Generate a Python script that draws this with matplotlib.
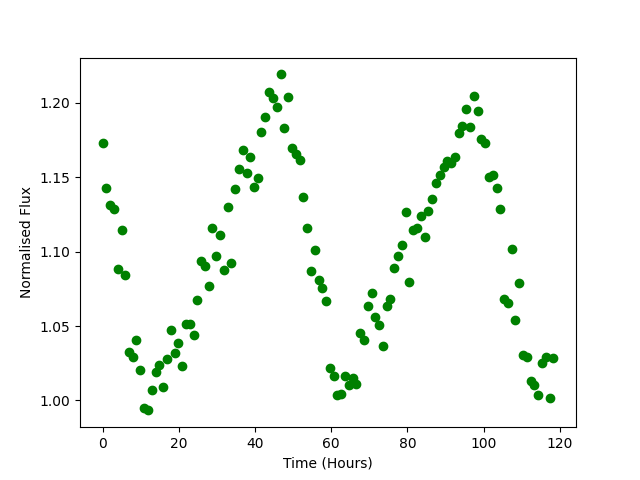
import numpy as np
import matplotlib
matplotlib.use('Agg')
import matplotlib.pyplot as plt

# observation times (hours)
time = [0.0, 1.0, 2.0, 3.0, 4.0, 5.0, 6.0, 7.0, 8.0, 8.9,
        9.9, 10.9, 11.9, 12.9, 13.9, 14.9, 15.9, 16.9, 17.9, 18.9,
        19.9, 20.9, 21.9, 22.9, 23.9, 24.9, 25.8, 26.8, 27.8, 28.8,
        29.8, 30.8, 31.8, 32.8, 33.8, 34.8, 35.8, 36.8, 37.8, 38.8,
        39.8, 40.8, 41.7, 42.7, 43.7, 44.7, 45.7, 46.7, 47.7, 48.7,
        49.7, 50.7, 51.7, 52.7, 53.7, 54.7, 55.7, 56.7, 57.7, 58.6,
        59.6, 60.6, 61.6, 62.6, 63.6, 64.6, 65.6, 66.6, 67.6, 68.6,
        69.6, 70.6, 71.6, 72.6, 73.6, 74.6, 75.5, 76.5, 77.5, 78.5,
        79.5, 80.5, 81.5, 82.5, 83.5, 84.5, 85.5, 86.5, 87.5, 88.5,
        89.5, 90.5, 91.4, 92.4, 93.4, 94.4, 95.4, 96.4, 97.4, 98.4,
        99.4, 100.4, 101.4, 102.4, 103.4, 104.4, 105.4, 106.4, 107.4, 108.3,
        109.3, 110.3, 111.3, 112.3, 113.3, 114.3, 115.3, 116.3, 117.3, 118.3]

# normalised flux
flux = [1.1732, 1.1426, 1.1311, 1.1285, 1.0884, 1.1146, 1.0842, 1.0327, 1.0295, 1.0407,
        1.0206, 0.9951, 0.9933, 1.0072, 1.0191, 1.0238, 1.0092, 1.0278, 1.0472, 1.0320,
        1.0387, 1.0231, 1.0515, 1.0515, 1.0439, 1.0676, 1.0938, 1.0902, 1.0768, 1.1157,
        1.0969, 1.1110, 1.0877, 1.1300, 1.0924, 1.1419, 1.1553, 1.1683, 1.1526, 1.1634,
        1.1432, 1.1495, 1.1801, 1.1902, 1.2072, 1.2032, 1.1969, 1.2191, 1.1828, 1.2036,
        1.1694, 1.1656, 1.1615, 1.1367, 1.1157, 1.0870, 1.1009, 1.0810, 1.0753, 1.0667,
        1.0219, 1.0166, 1.0038, 1.0045, 1.0166, 1.0105, 1.0149, 1.0110, 1.0454, 1.0404,
        1.0634, 1.0721, 1.0562, 1.0505, 1.0366, 1.0632, 1.0681, 1.0891, 1.0968, 1.1043,
        1.1265, 1.0795, 1.1144, 1.1157, 1.1238, 1.1097, 1.1271, 1.1352, 1.1459, 1.1513,
        1.1567, 1.1609, 1.1597, 1.1636, 1.1795, 1.1846, 1.1956, 1.1835, 1.2045, 1.1942,
        1.1754, 1.1732, 1.1499, 1.1513, 1.1426, 1.1285, 1.0683, 1.0654, 1.1016, 1.0540,
        1.0788, 1.0305, 1.0295, 1.0132, 1.0105, 1.0038, 1.0251, 1.0295, 1.0016, 1.0285]

plt.figure(figsize=(6.4, 4.8), dpi=100)
plt.plot(time, flux, 'go')
plt.xlabel('Time (Hours)')
plt.ylabel('Normalised Flux')
plt.savefig('out.png')
